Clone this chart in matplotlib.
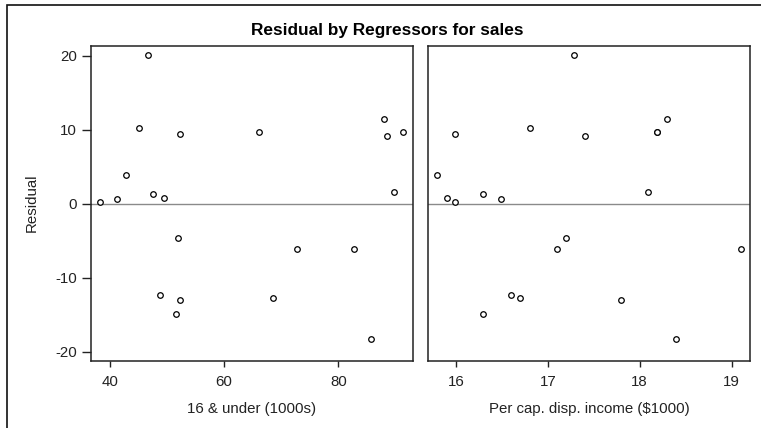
import numpy as np
import matplotlib.pyplot as plt
from matplotlib.patches import Rectangle

plt.rcParams['font.family'] = ['Liberation Sans', 'DejaVu Sans']
plt.rcParams['axes.unicode_minus'] = False

# regressors and residuals, one entry per observation
under16 = [38.25, 41.2, 42.8, 45.1, 46.7, 47.6, 49.5, 52.2, 66.1, 88.1, 88.5,
           91.4, 89.8, 51.9, 72.7, 82.7, 48.8, 52.3, 68.5, 51.5, 85.8]
income = [15.99, 16.49, 15.80, 16.81, 17.29, 16.30, 15.90, 15.99, 18.19, 18.30, 17.40,
          18.19, 18.09, 17.20, 17.10, 19.10, 16.60, 17.80, 16.70, 16.30, 18.40]
resid = [0.27, 0.63, 3.83, 10.2, 20.1, 1.26, 0.81, 9.4, 9.73, 11.5, 9.2,
         9.7, 1.58, -4.64, -6.1, -6.1, -12.3, -13.0, -12.7, -14.9, -18.3]

xlabels = ["16 & under (1000s)", "Per cap. disp. income ($1000)"]
xticks = [[40, 60, 80], [16, 17, 18, 19]]
xlims = [(36.6, 93.05), (15.70, 19.2)]
yticks = [-20, -10, 0, 10, 20]

fs = 10.8
fig = plt.figure(figsize=(7.61, 4.28), dpi=100, facecolor='white')
fig.patches.append(Rectangle((7 / 761, -0.1), 1.2, 1 - 5 / 428 + 0.1,
                             transform=fig.transFigure, fill=False,
                             edgecolor='#111111', linewidth=1.2))

ax1 = fig.add_axes([0.1192, 0.1572, 0.4231, 0.736])
ax2 = fig.add_axes([0.5628, 0.1572, 0.4227, 0.736])

for i, (ax, xv) in enumerate(zip([ax1, ax2], [under16, income])):
    ax.axhline(0, color='#8a8a8a', linewidth=1, zorder=1)
    ax.plot(xv, resid, 'o', markersize=4, markerfacecolor='white',
            markeredgecolor='black', markeredgewidth=0.9, zorder=2)
    ax.set_xlim(*xlims[i])
    ax.set_ylim(-21.2, 21.35)
    ax.set_xticks(xticks[i])
    ax.set_xlabel(xlabels[i], fontsize=fs, labelpad=9, color='#222222')
    for s in ax.spines.values():
        s.set_linewidth(1.1)
        s.set_color('#222222')
    ax.tick_params(axis='x', length=4.3, width=1, pad=6, labelsize=fs,
                   colors='#222222')
    if i == 0:
        ax.set_yticks(yticks)
        ax.tick_params(axis='y', length=6.5, width=1, pad=3.5, labelsize=fs,
                       colors='#222222')
        ax.set_ylabel("Residual", fontsize=fs, labelpad=12, color='#222222')
    else:
        ax.set_yticks([])

fig.text(387 / 761, 1 - 30 / 428, "Residual by Regressors for sales",
         ha='center', va='center', fontsize=12.4, fontweight='bold')

fig.savefig('out.png', dpi=100)
